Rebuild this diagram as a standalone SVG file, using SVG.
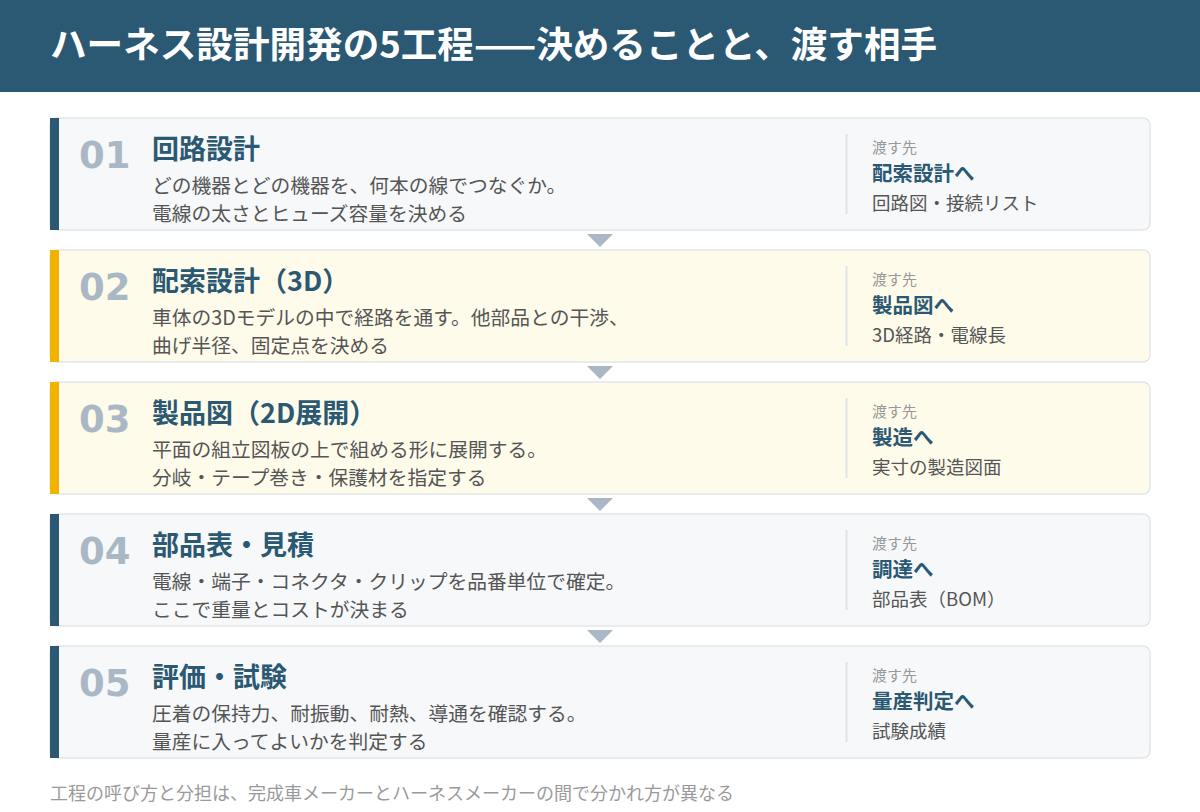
<svg xmlns="http://www.w3.org/2000/svg" width="1200" height="812" viewBox="0 0 1200 812">
<style>
.jp{font-family:"Noto Sans CJK JP","Noto Sans",sans-serif}
.card{fill:#f6f8fa;stroke:#e2e6ea;stroke-width:1.5}
.card.hl{fill:#fefbeb}
.bar{fill:#2b5872}
.bar.hl{fill:#f0b400}
.num{font-family:"DejaVu Sans","Liberation Sans",sans-serif;font-weight:bold;font-size:37px;fill:#aab8c5}
.ttl{font-weight:bold;font-size:27px;fill:#2b5872}
.desc{font-size:19.75px;fill:#555}
.lab{font-size:15px;fill:#999}
.dest{font-weight:bold;font-size:20.5px;fill:#2b5872}
.del{font-size:18.5px;fill:#555}
.div{stroke:#e0e4e8;stroke-width:2}
.arr{fill:#a9b8c4}
</style>
<rect x="0" y="0" width="1200" height="812" fill="#ffffff"/>
<g id="header">
<rect x="0" y="0" width="1200" height="92" fill="#2b5872"/>
<text class="jp" x="50" y="58" font-size="36.6" font-weight="bold" fill="#ffffff">ハーネス設計開発の5工程——決めることと、渡す相手</text>
</g>
<g id="connectors">
<polygon class="arr" points="587,234 613,234 600,247"/>
<polygon class="arr" points="587,366 613,366 600,379"/>
<polygon class="arr" points="587,498 613,498 600,511"/>
<polygon class="arr" points="587,630 613,630 600,643"/>
</g>
<g id="step01">
<rect class="card" x="50" y="118" width="1100" height="112" rx="7"/>
<rect class="bar" x="50" y="118" width="9" height="112"/>
<text class="num" x="79" y="168">01</text>
<text class="jp ttl" x="152" y="159">回路設計</text>
<text class="jp desc" x="152" y="193">どの機器とどの機器を、何本の線でつなぐか。</text>
<text class="jp desc" x="152" y="221">電線の太さとヒューズ容量を決める</text>
<line class="div" x1="846.5" y1="134" x2="846.5" y2="214"/>
<text class="jp lab" x="872" y="153">渡す先</text>
<text class="jp dest" x="872" y="181">配索設計へ</text>
<text class="jp del" x="872" y="209.5">回路図・接続リスト</text>
</g>
<g id="step02">
<rect class="card hl" x="50" y="250" width="1100" height="112" rx="7"/>
<rect class="bar hl" x="50" y="250" width="9" height="112"/>
<text class="num" x="79" y="300">02</text>
<text class="jp ttl" x="152" y="291">配索設計（3D）</text>
<text class="jp desc" x="152" y="325">車体の3Dモデルの中で経路を通す。他部品との干渉、</text>
<text class="jp desc" x="152" y="353">曲げ半径、固定点を決める</text>
<line class="div" x1="846.5" y1="266" x2="846.5" y2="346"/>
<text class="jp lab" x="872" y="285">渡す先</text>
<text class="jp dest" x="872" y="313">製品図へ</text>
<text class="jp del" x="872" y="341.5">3D経路・電線長</text>
</g>
<g id="step03">
<rect class="card hl" x="50" y="382" width="1100" height="112" rx="7"/>
<rect class="bar hl" x="50" y="382" width="9" height="112"/>
<text class="num" x="79" y="432">03</text>
<text class="jp ttl" x="152" y="423">製品図（2D展開）</text>
<text class="jp desc" x="152" y="457">平面の組立図板の上で組める形に展開する。</text>
<text class="jp desc" x="152" y="485">分岐・テープ巻き・保護材を指定する</text>
<line class="div" x1="846.5" y1="398" x2="846.5" y2="478"/>
<text class="jp lab" x="872" y="417">渡す先</text>
<text class="jp dest" x="872" y="445">製造へ</text>
<text class="jp del" x="872" y="473.5">実寸の製造図面</text>
</g>
<g id="step04">
<rect class="card" x="50" y="514" width="1100" height="112" rx="7"/>
<rect class="bar" x="50" y="514" width="9" height="112"/>
<text class="num" x="79" y="564">04</text>
<text class="jp ttl" x="152" y="555">部品表・見積</text>
<text class="jp desc" x="152" y="589">電線・端子・コネクタ・クリップを品番単位で確定。</text>
<text class="jp desc" x="152" y="617">ここで重量とコストが決まる</text>
<line class="div" x1="846.5" y1="530" x2="846.5" y2="610"/>
<text class="jp lab" x="872" y="549">渡す先</text>
<text class="jp dest" x="872" y="577">調達へ</text>
<text class="jp del" x="872" y="605.5">部品表（BOM）</text>
</g>
<g id="step05">
<rect class="card" x="50" y="646" width="1100" height="112" rx="7"/>
<rect class="bar" x="50" y="646" width="9" height="112"/>
<text class="num" x="79" y="696">05</text>
<text class="jp ttl" x="152" y="687">評価・試験</text>
<text class="jp desc" x="152" y="721">圧着の保持力、耐振動、耐熱、導通を確認する。</text>
<text class="jp desc" x="152" y="749">量産に入ってよいかを判定する</text>
<line class="div" x1="846.5" y1="662" x2="846.5" y2="742"/>
<text class="jp lab" x="872" y="681">渡す先</text>
<text class="jp dest" x="872" y="709">量産判定へ</text>
<text class="jp del" x="872" y="737.5">試験成績</text>
</g>
<g id="footer">
<text class="jp" x="50" y="800" font-size="18" fill="#9a9a9a">工程の呼び方と分担は、完成車メーカーとハーネスメーカーの間で分かれ方が異なる</text>
</g>
</svg>
